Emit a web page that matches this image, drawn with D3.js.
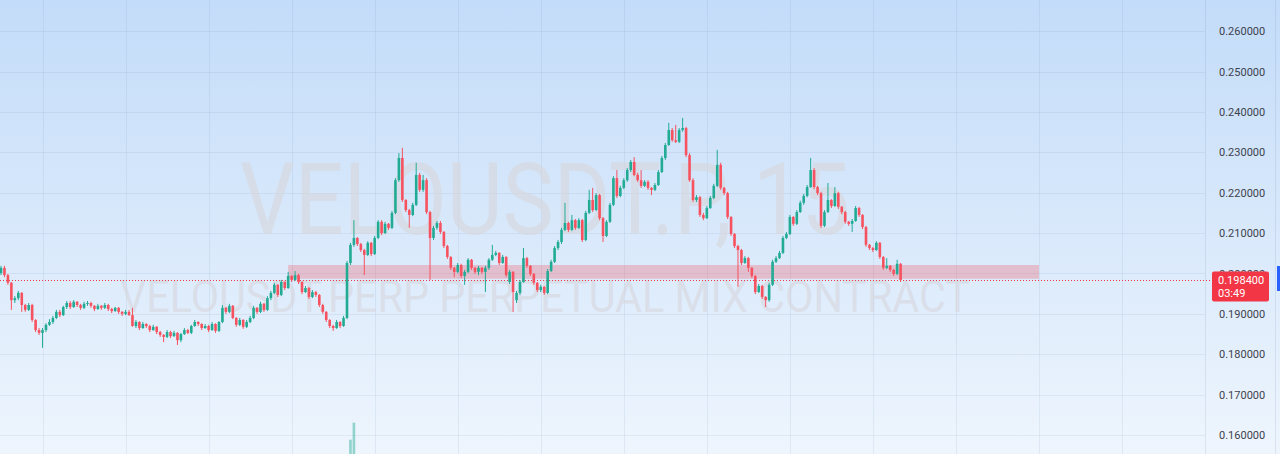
<!DOCTYPE html>
<html>
<head>
<meta charset="utf-8">
<script src="https://cdn.jsdelivr.net/npm/d3@7"></script>
<style>
  html, body { margin: 0; padding: 0; overflow: hidden; background: #fff; }
  svg { display: block; }
</style>
</head>
<body>
<svg id="container" width="1280" height="454"></svg>
<script>
// ---- data ----
const symbolTitle = "VELOUSDT.P, 15";
const symbolDesc = "VELOUSDT.PERP PERPETUAL MIX CONTRACT";
const priceTicks = [0.16, 0.17, 0.18, 0.19, 0.20, 0.21, 0.22, 0.23, 0.24, 0.25, 0.26];
const lastPrice = 0.1984;
const countdown = "03:49";
// support zone: bar range and price range
const zoneBars = [83, 300];
const zonePrices = [0.1987, 0.2021];
// time grid lines (bar index, every 6h = 24 bars)
const gridBars = [12, 36, 60, 84, 108, 132, 156, 180, 204, 228, 252, 276, 300, 324];
// visible volume bars (bar index, volume)
const volBars = [101, 102];
const volValues = [25, 40];
// 15m candles, [open, high, low, close] in 0.0001 units
const PRICE_STEP = 0.0001;
const candles = [
  [2001,2019,1996,2014],[2014,2019,1991,1996],[1996,1999,1972,1977],[1977,1979,1910,1934],[1934,1944,1927,1939],
  [1939,1957,1934,1952],[1952,1954,1905,1922],[1922,1925,1905,1910],[1910,1927,1907,1922],[1922,1925,1880,1885],
  [1885,1887,1855,1860],[1860,1865,1848,1853],[1853,1865,1816,1860],[1860,1877,1855,1873],[1873,1887,1870,1880],
  [1880,1895,1875,1890],[1890,1910,1887,1905],[1905,1910,1892,1897],[1897,1920,1895,1917],[1917,1932,1912,1927],
  [1927,1932,1912,1917],[1917,1934,1915,1930],[1930,1932,1917,1922],[1922,1925,1910,1915],[1915,1930,1912,1925],
  [1925,1932,1920,1927],[1927,1930,1915,1920],[1920,1922,1907,1912],[1912,1925,1910,1920],[1920,1922,1910,1915],
  [1915,1927,1912,1922],[1922,1925,1907,1912],[1912,1915,1902,1907],[1907,1917,1905,1915],[1915,1917,1900,1905],
  [1905,1907,1895,1900],[1900,1910,1897,1905],[1905,1910,1895,1897],[1897,1915,1868,1870],[1870,1885,1865,1880],
  [1880,1882,1860,1865],[1865,1880,1863,1875],[1875,1877,1865,1870],[1870,1873,1855,1860],[1860,1873,1858,1868],
  [1868,1870,1850,1855],[1855,1858,1843,1848],[1848,1850,1830,1843],[1843,1860,1840,1855],[1855,1858,1840,1845],
  [1845,1858,1843,1853],[1853,1855,1823,1835],[1835,1853,1830,1850],[1850,1865,1848,1860],[1860,1863,1850,1853],
  [1853,1873,1850,1870],[1870,1885,1868,1880],[1880,1882,1870,1875],[1875,1877,1860,1865],[1865,1875,1863,1870],
  [1870,1873,1855,1860],[1860,1880,1858,1875],[1875,1877,1853,1858],[1858,1882,1855,1880],[1880,1922,1877,1915],
  [1915,1917,1900,1905],[1905,1925,1902,1920],[1920,1922,1887,1890],[1890,1892,1868,1873],[1873,1890,1870,1885],
  [1885,1887,1863,1868],[1868,1885,1865,1880],[1880,1895,1877,1890],[1890,1920,1887,1915],[1915,1917,1900,1905],
  [1905,1930,1902,1925],[1925,1927,1905,1910],[1910,1944,1907,1939],[1939,1957,1934,1952],[1952,1977,1949,1972],
  [1972,1974,1942,1947],[1947,1984,1944,1979],[1979,1981,1959,1964],[1964,2004,1962,1994],[1994,1996,1979,1984],
  [1984,2006,1981,1996],[1996,1999,1974,1979],[1979,1981,1949,1954],[1954,1969,1952,1964],[1964,1967,1937,1942],
  [1942,1959,1939,1954],[1954,1957,1942,1947],[1947,1949,1917,1922],[1922,1925,1900,1905],[1905,1907,1880,1885],
  [1885,1887,1865,1870],[1870,1873,1858,1865],[1865,1885,1863,1880],[1880,1882,1865,1870],[1870,1895,1868,1890],
  [1890,2031,1887,2026],[2026,2076,2021,2071],[2071,2132,2066,2088],[2088,2090,2068,2073],[2073,2076,2053,2058],
  [2058,2061,1996,2046],[2046,2080,2043,2076],[2076,2078,2043,2048],[2048,2093,2046,2088],[2088,2132,2085,2128],
  [2128,2132,2095,2100],[2100,2128,2098,2123],[2123,2125,2108,2113],[2113,2155,2110,2150],[2150,2236,2147,2231],
  [2231,2298,2227,2286],[2286,2311,2177,2182],[2182,2184,2152,2157],[2157,2160,2113,2145],[2145,2175,2142,2170],
  [2170,2274,2167,2244],[2244,2249,2202,2207],[2207,2244,2202,2231],[2231,2236,2147,2152],[2152,2155,1984,2088],
  [2088,2118,2083,2113],[2113,2130,2108,2125],[2125,2130,2098,2103],[2103,2105,2063,2068],[2068,2071,2036,2041],
  [2041,2043,2009,2014],[2014,2016,1991,2004],[2004,2026,2001,2021],[2021,2024,1989,1994],[1994,2009,1972,2004],
  [2004,2038,2001,2034],[2034,2036,2009,2014],[2014,2016,1999,2004],[2004,2019,1996,2014],[2014,2016,1999,2004],
  [2004,2019,1954,2014],[2014,2038,2009,2034],[2034,2071,2031,2046],[2046,2056,2043,2051],[2051,2053,2021,2026],
  [2026,2046,2024,2041],[2041,2043,1991,1996],[1979,2009,1974,2004],[2004,2006,1905,1954],[1934,1957,1927,1952],
  [1952,1984,1947,1979],[1979,2063,1977,2038],[2038,2041,2014,2019],[2019,2021,1994,1999],[1999,2001,1972,1977],
  [1977,1979,1954,1959],[1959,1972,1954,1967],[1967,1969,1947,1952],[1952,2011,1949,2006],[2006,2034,2004,2029],
  [2029,2068,2026,2063],[2063,2083,2058,2078],[2078,2113,2073,2108],[2108,2175,2105,2125],[2125,2128,2103,2108],
  [2108,2145,2105,2132],[2132,2135,2108,2113],[2113,2137,2110,2132],[2132,2135,2078,2083],[2083,2155,2080,2150],
  [2150,2207,2147,2182],[2182,2212,2152,2157],[2157,2199,2155,2194],[2194,2197,2132,2137],[2137,2140,2078,2093],
  [2093,2132,2090,2128],[2128,2175,2125,2170],[2170,2241,2167,2236],[2236,2256,2187,2192],[2192,2217,2189,2212],
  [2212,2236,2209,2231],[2231,2261,2227,2256],[2256,2281,2251,2276],[2276,2288,2241,2244],[2244,2249,2227,2231],
  [2231,2256,2212,2217],[2217,2231,2214,2227],[2227,2231,2207,2212],[2212,2214,2194,2207],[2207,2224,2204,2219],
  [2219,2256,2217,2251],[2251,2291,2249,2286],[2286,2323,2281,2318],[2318,2373,2316,2355],[2355,2360,2326,2330],
  [2330,2368,2323,2326],[2326,2360,2323,2355],[2355,2385,2351,2360],[2360,2363,2288,2293],[2293,2298,2227,2231],
  [2231,2236,2177,2182],[2182,2194,2177,2189],[2189,2192,2140,2145],[2145,2150,2132,2137],[2137,2167,2135,2162],
  [2162,2192,2160,2187],[2187,2222,2184,2217],[2217,2306,2214,2269],[2269,2274,2207,2212],[2212,2214,2194,2199],
  [2199,2202,2135,2140],[2140,2142,2093,2098],[2098,2100,2063,2068],[2068,2071,1967,2058],[2058,2061,2021,2026],
  [2026,2043,2024,2038],[2038,2041,2004,2014],[2014,2016,1989,1994],[1994,1996,1949,1954],[1954,1974,1952,1969],
  [1969,1972,1937,1942],[1942,1944,1917,1934],[1934,1977,1930,1972],[1972,2034,1969,2029],[2029,2043,2026,2038],
  [2038,2056,2036,2051],[2051,2093,2048,2088],[2088,2103,2085,2098],[2098,2145,2095,2140],[2140,2142,2118,2123],
  [2123,2157,2120,2152],[2152,2180,2150,2175],[2175,2197,2170,2192],[2192,2219,2189,2214],[2214,2286,2212,2256],
  [2256,2261,2209,2214],[2214,2217,2194,2199],[2199,2202,2113,2118],[2118,2157,2115,2152],[2152,2224,2150,2182],
  [2182,2184,2162,2167],[2167,2214,2165,2199],[2199,2202,2160,2165],[2165,2167,2147,2152],[2152,2155,2123,2128],
  [2128,2130,2118,2123],[2123,2135,2103,2130],[2130,2167,2128,2162],[2162,2165,2140,2145],[2145,2147,2110,2115],
  [2115,2118,2066,2071],[2071,2073,2058,2063],[2063,2066,2053,2058],[2058,2080,2056,2076],[2076,2078,2036,2041],
  [2041,2043,2009,2014],[2014,2038,2011,2019],[2019,2021,2004,2009],[2009,2011,1994,1999],[1999,2034,1996,2024],
  [2024,2026,1979,1984]
];

// ---- layout ----
const W = 1280, H = 454;
const AXIS_X = 1205;
const UP = "#22ab94", DOWN = "#f7525f";

const bars = candles.map((d, i) => ({
  i: i,
  o: d[0] * PRICE_STEP,
  h: d[1] * PRICE_STEP,
  l: d[2] * PRICE_STEP,
  c: d[3] * PRICE_STEP
}));

const x = d3.scaleLinear().domain([0, bars.length - 1]).range([1, 900.6]);
const y = d3.scaleLinear().domain([0.16, 0.26]).range([435.1, 31.1]);
const vy = d3.scaleLinear().domain([0, 60]).range([468, 400]);
const bodyW = 2.6;

const svg = d3.select("#container");
const defs = svg.append("defs");

// background gradient
const bg = defs.append("linearGradient")
  .attr("id", "bg-grad")
  .attr("x1", 0).attr("y1", 0).attr("x2", 0).attr("y2", 1);
bg.append("stop").attr("offset", 0).attr("stop-color", "#c3dcf9");
bg.append("stop").attr("offset", 1).attr("stop-color", "#eef5fd");

svg.append("rect")
  .attr("width", W).attr("height", H)
  .attr("fill", "url(#bg-grad)");

// grid
svg.append("g").attr("class", "hgrid")
  .selectAll("line")
  .data(priceTicks)
  .enter().append("line")
  .attr("x1", 0).attr("x2", AXIS_X)
  .attr("y1", d => Math.round(y(d)) + 0.5)
  .attr("y2", d => Math.round(y(d)) + 0.5)
  .attr("stroke", "rgba(70,110,160,0.09)");

svg.append("g").attr("class", "vgrid")
  .selectAll("line")
  .data(gridBars)
  .enter().append("line")
  .attr("x1", d => Math.round(x(d)) + 0.5)
  .attr("x2", d => Math.round(x(d)) + 0.5)
  .attr("y1", 0).attr("y2", H)
  .attr("stroke", "rgba(70,110,160,0.09)");

// axis separator
svg.append("line")
  .attr("x1", AXIS_X + 0.5).attr("x2", AXIS_X + 0.5)
  .attr("y1", 0).attr("y2", H)
  .attr("stroke", "rgba(70,110,160,0.12)");

// watermark
const wmFill = "rgba(214,214,220,0.62)";
svg.append("text")
  .attr("x", 545).attr("y", 234)
  .attr("text-anchor", "middle")
  .attr("font-family", "Roboto, sans-serif")
  .attr("font-size", 100)
  .attr("textLength", 610)
  .attr("lengthAdjust", "spacingAndGlyphs")
  .attr("fill", wmFill)
  .text(symbolTitle);

svg.append("text")
  .attr("x", 545).attr("y", 312)
  .attr("text-anchor", "middle")
  .attr("font-family", "Roboto, sans-serif")
  .attr("font-size", 44)
  .attr("textLength", 850)
  .attr("lengthAdjust", "spacingAndGlyphs")
  .attr("fill", wmFill)
  .text(symbolDesc);

// volume (only the tallest bars reach into view)
svg.append("g").attr("class", "volume")
  .selectAll("rect")
  .data(volBars)
  .enter().append("rect")
  .attr("x", d => x(d) - bodyW / 2)
  .attr("width", bodyW)
  .attr("y", (d, k) => vy(volValues[k]))
  .attr("height", (d, k) => H - vy(volValues[k]))
  .attr("fill", "rgba(34,171,148,0.45)");

// support zone
svg.append("rect")
  .attr("x", x(zoneBars[0]))
  .attr("width", x(zoneBars[1]) - x(zoneBars[0]))
  .attr("y", y(zonePrices[1]))
  .attr("height", y(zonePrices[0]) - y(zonePrices[1]))
  .attr("fill", "rgba(242,54,69,0.25)");

// last price line
svg.append("line")
  .attr("x1", 0).attr("x2", 1212)
  .attr("y1", Math.round(y(lastPrice)) + 0.5)
  .attr("y2", Math.round(y(lastPrice)) + 0.5)
  .attr("stroke", "#f23645")
  .attr("stroke-width", 1)
  .attr("stroke-dasharray", "1,2");

// candles
const candle = svg.append("g").attr("class", "candles")
  .selectAll("g")
  .data(bars)
  .enter().append("g");

candle.append("line")
  .attr("x1", d => x(d.i)).attr("x2", d => x(d.i))
  .attr("y1", d => y(d.h)).attr("y2", d => y(d.l))
  .attr("stroke", d => d.c >= d.o ? UP : DOWN)
  .attr("stroke-width", 1);

candle.append("rect")
  .attr("x", d => x(d.i) - bodyW / 2)
  .attr("width", bodyW)
  .attr("y", d => y(Math.max(d.o, d.c)))
  .attr("height", d => Math.max(1, Math.abs(y(d.o) - y(d.c))))
  .attr("fill", d => d.c >= d.o ? UP : DOWN);

// price axis
const axis = d3.axisRight(y)
  .tickValues(priceTicks)
  .tickFormat(d3.format(".6f"))
  .tickSize(0)
  .tickPadding(14);

const axisG = svg.append("g")
  .attr("transform", `translate(${AXIS_X},0)`)
  .call(axis);
axisG.select(".domain").remove();
axisG.selectAll("text")
  .attr("font-family", "Roboto, sans-serif")
  .attr("font-size", 11)
  .attr("fill", "#3d424d");

// last price label (covers most of the 0.200000 tick, as in the original)
const ly = y(lastPrice);
svg.append("rect")
  .attr("x", 1212).attr("y", ly - 8.5)
  .attr("width", 57).attr("height", 30)
  .attr("rx", 2)
  .attr("fill", "#f23645");
svg.append("text")
  .attr("x", 1218).attr("y", ly + 4)
  .attr("font-family", "Roboto, sans-serif")
  .attr("font-size", 11)
  .attr("fill", "#fff")
  .text(d3.format(".6f")(lastPrice));
svg.append("text")
  .attr("x", 1218).attr("y", ly + 17)
  .attr("font-family", "Roboto, sans-serif")
  .attr("font-size", 11)
  .attr("fill", "#fff")
  .text(countdown);

// right edge marker
svg.append("rect")
  .attr("x", 1277).attr("y", 266)
  .attr("width", 3).attr("height", 25)
  .attr("fill", "#2962ff");
svg.append("line")
  .attr("x1", 1275.5).attr("x2", 1275.5)
  .attr("y1", 0).attr("y2", H)
  .attr("stroke", "rgba(70,110,160,0.12)");
</script>
</body>
</html>
